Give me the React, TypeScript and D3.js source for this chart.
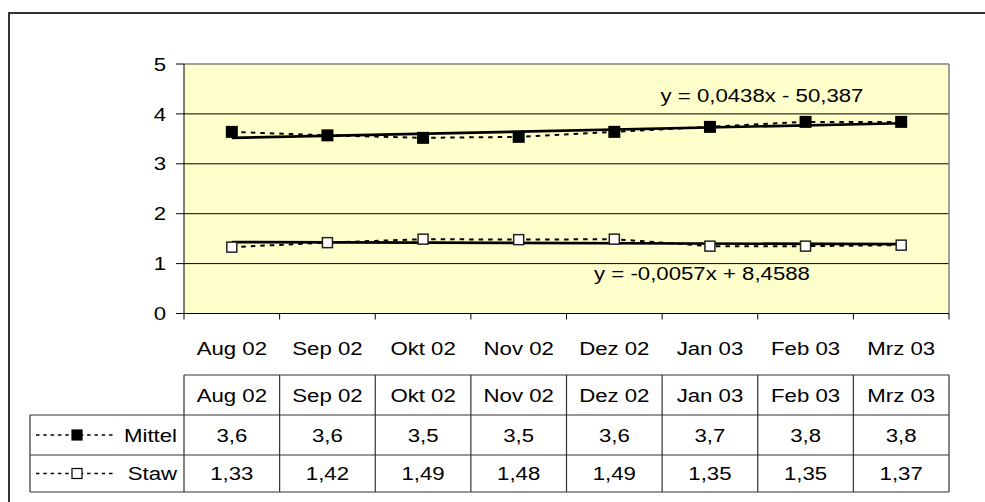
import React from "react";
import * as d3 from "d3";

const months = ["Aug 02", "Sep 02", "Okt 02", "Nov 02", "Dez 02", "Jan 03", "Feb 03", "Mrz 03"];
const mittel = [3.64, 3.57, 3.52, 3.54, 3.64, 3.74, 3.84, 3.84];
const staw = [1.33, 1.42, 1.49, 1.48, 1.49, 1.35, 1.35, 1.37];
const yTicks = [0, 1, 2, 3, 4, 5];
const mittelEq = "y = 0,0438x - 50,387";
const stawEq = "y = -0,0057x + 8,4588";

const W = 985;
const H = 502;
const left = 184;
const right = 949;
const top = 64;
const bottom = 313.5;
const font = "Arial, 'Liberation Sans', sans-serif";

// least squares on category index, same as the excel trendline
function trend(vals: number[]) {
  const xs = vals.map((_, i) => i);
  const mx = d3.mean(xs) as number;
  const my = d3.mean(vals) as number;
  const sxy = d3.sum(xs, (x, i) => (x - mx) * (vals[i] - my));
  const sxx = d3.sum(xs, (x) => (x - mx) ** 2);
  const b = sxy / sxx;
  const a = my - b * mx;
  return [0, vals.length - 1].map((i) => ({ i, v: a + b * i }));
}

const fmt = (v: number, d: number) => v.toFixed(d).replace(".", ",");

// text in the picture is a bit stretched sideways
const T = ({ x, y, anchor = "middle", children }: { x: number; y: number; anchor?: string; children: any }) => (
  <g transform={`translate(${x},${y}) scale(1.2,1)`}>
    <text dy="0.36em" textAnchor={anchor} fontSize={18.5}>
      {children}
    </text>
  </g>
);

const App = () => {
  const x = d3.scaleBand().domain(months).range([left, right]);
  const y = d3.scaleLinear().domain([0, 5]).range([bottom, top]);
  const cx = (i: number) => (x(months[i]) as number) + x.bandwidth() / 2;

  const line = d3
    .line<number>()
    .x((_, i) => cx(i))
    .y((d) => y(d));
  const tline = d3
    .line<{ i: number; v: number }>()
    .x((d) => cx(d.i))
    .y((d) => y(d.v));

  const rowH = [375, 415, 455, 492];
  const legX = 30;

  return (
    <div style={{ position: "absolute", left: 0, top: 0 }}>
      <svg width={W} height={H} style={{ display: "block", background: "#fff" }} fontFamily={font}>
        {/* outer frame */}
        <rect x={9} y={13} width={W} height={H} fill="none" stroke="#333" strokeWidth={2} />

        {/* plot area */}
        <rect x={left} y={top} width={right - left} height={bottom - top} fill="#ffffcc" />
        {yTicks.slice(1, -1).map((t) => (
          <line key={t} x1={left} x2={right} y1={y(t)} y2={y(t)} stroke="#000" strokeWidth={1} />
        ))}
        <line x1={left} x2={right} y1={top} y2={top} stroke="#808080" strokeWidth={1.5} />
        <line x1={right} x2={right} y1={top} y2={bottom} stroke="#808080" strokeWidth={1.5} />

        {/* axes */}
        <line x1={left} x2={left} y1={top} y2={bottom} stroke="#000" strokeWidth={1} />
        <line x1={left} x2={right} y1={bottom} y2={bottom} stroke="#000" strokeWidth={1} />
        {yTicks.map((t) => (
          <g key={t}>
            <line x1={left - 8} x2={left} y1={y(t)} y2={y(t)} stroke="#000" />
            <T x={166} y={y(t)} anchor="end">
              {t}
            </T>
          </g>
        ))}
        {months.map((m) => (
          <line key={m} x1={x(m)} x2={x(m)} y1={bottom} y2={bottom + 6} stroke="#000" />
        ))}
        <line x1={right} x2={right} y1={bottom} y2={bottom + 6} stroke="#000" />
        {months.map((m, i) => (
          <T key={m} x={cx(i)} y={348}>
            {m}
          </T>
        ))}

        {/* series lines */}
        <path d={line(mittel) || ""} fill="none" stroke="#000" strokeWidth={2} strokeDasharray="4.5,5" />
        <path d={line(staw) || ""} fill="none" stroke="#000" strokeWidth={2} strokeDasharray="4.5,5" />

        {/* trendlines */}
        <path d={tline(trend(mittel)) || ""} fill="none" stroke="#000" strokeWidth={2.7} />
        <path d={tline(trend(staw)) || ""} fill="none" stroke="#000" strokeWidth={2.7} />

        {/* markers */}
        {mittel.map((v, i) => (
          <rect key={i} x={cx(i) - 6} y={y(v) - 6} width={12} height={12} fill="#000" />
        ))}
        {staw.map((v, i) => (
          <rect key={i} x={cx(i) - 5} y={y(v) - 5} width={10} height={10} fill="#fff" stroke="#222" strokeWidth={1.5} />
        ))}

        <T x={762} y={95}>
          {mittelEq}
        </T>
        <T x={702} y={273}>
          {stawEq}
        </T>

        {/* data table */}
        <g stroke="#333" strokeWidth={1.2} fill="none">
          <line x1={left} x2={right} y1={rowH[0]} y2={rowH[0]} />
          <line x1={legX} x2={right} y1={rowH[1]} y2={rowH[1]} />
          <line x1={legX} x2={right} y1={rowH[2]} y2={rowH[2]} />
          <line x1={legX} x2={right} y1={rowH[3]} y2={rowH[3]} />
          <line x1={legX} x2={legX} y1={rowH[1]} y2={rowH[3]} />
          {months.map((m) => (
            <line key={m} x1={x(m)} x2={x(m)} y1={rowH[0]} y2={rowH[3]} />
          ))}
          <line x1={right} x2={right} y1={rowH[0]} y2={rowH[3]} />
        </g>
        {months.map((m, i) => (
          <g key={m}>
            <T x={cx(i)} y={(rowH[0] + rowH[1]) / 2}>
              {m}
            </T>
            <T x={cx(i)} y={(rowH[1] + rowH[2]) / 2}>
              {fmt(mittel[i], 1)}
            </T>
            <T x={cx(i)} y={(rowH[2] + rowH[3]) / 2}>
              {fmt(staw[i], 2)}
            </T>
          </g>
        ))}

        {/* legend keys */}
        {[
          { name: "Mittel", fill: "#000", r: rowH[1] },
          { name: "Staw", fill: "#fff", r: rowH[2] },
        ].map((s, k) => {
          const ly = (s.r + rowH[k + 2]) / 2;
          return (
            <g key={s.name}>
              <line x1={36} x2={116} y1={ly} y2={ly} stroke="#000" strokeWidth={1.4} strokeDasharray="3.5,3.8" />
              <rect x={72} y={ly - 5} width={10} height={10} fill={s.fill} stroke="#000" strokeWidth={1.2} />
              <T x={177} y={ly} anchor="end">
                {s.name}
              </T>
            </g>
          );
        })}
      </svg>
    </div>
  );
};

export default App;
